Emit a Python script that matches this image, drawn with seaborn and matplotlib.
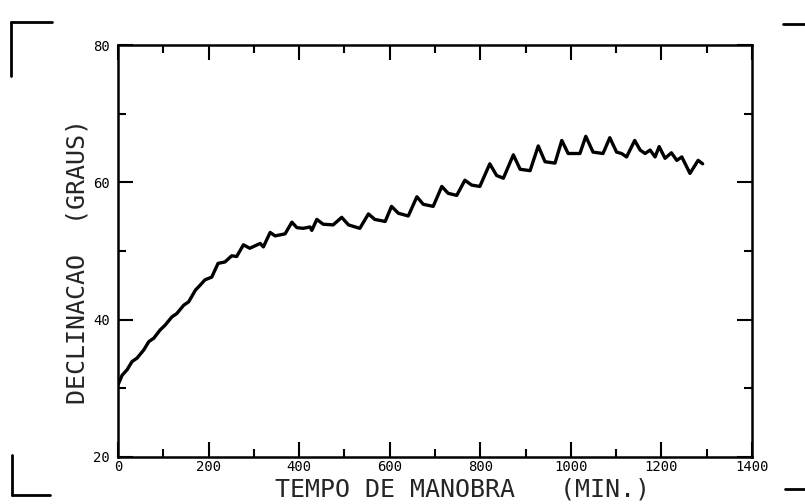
import matplotlib
matplotlib.use("Agg")
import matplotlib.pyplot as plt
from matplotlib.lines import Line2D
import seaborn as sns
import pandas as pd

# Data
minutes = [0, 9, 20, 31, 42, 57, 68, 79, 93, 104, 119, 130, 145, 156, 171,
           181, 192, 207, 221, 236, 251, 262, 277, 291, 314, 321, 336, 347, 369, 384, 395, 409, 424,
           428, 439, 453, 475, 494, 509, 534, 553, 567, 590, 604, 619, 641, 660, 674, 696,
           715, 729, 748, 766, 781, 799,
           821, 836, 851, 873, 888, 910, 928, 943, 965, 980, 994, 1020, 1033, 1049, 1071,
           1086, 1101, 1112, 1123, 1141, 1153, 1164, 1175, 1186, 1195, 1208, 1222, 1234,
           1245, 1263, 1281, 1291]
declinacao = [30.5, 31.9, 32.7, 33.9, 34.4, 35.6, 36.8, 37.3, 38.5, 39.2, 40.4, 40.9, 42.1, 42.6, 44.3,
              45.0, 45.8, 46.2, 48.2, 48.4, 49.3, 49.2, 50.9, 50.4, 51.1, 50.6, 52.7, 52.2, 52.5, 54.2, 53.4, 53.3, 53.5,
              53.0, 54.6, 53.9, 53.8, 54.9, 53.8, 53.3, 55.4, 54.6, 54.3, 56.5, 55.5, 55.1, 57.9, 56.8, 56.5,
              59.4, 58.4, 58.1, 60.3, 59.6, 59.4,
              62.7, 61.0, 60.6, 64.0, 61.9, 61.7, 65.3, 63.0, 62.8, 66.1, 64.2, 64.2, 66.7, 64.4, 64.2,
              66.5, 64.4, 64.2, 63.7, 66.1, 64.7, 64.2, 64.7, 63.7, 65.2, 63.5, 64.3, 63.2,
              63.7, 61.3, 63.2, 62.7]

x_major = [0, 200, 400, 600, 800, 1000, 1200, 1400]
x_minor = [100, 300, 500, 700, 900, 1100, 1300]
y_major = [20, 40, 60, 80]
y_minor = [30, 50, 70]

sns.set_style("white")
plt.rcParams['font.family'] = ['DejaVu Sans Mono', 'DejaVu Sans']

W, H = 805, 504
fig = plt.figure(figsize=(W / 100, H / 100), dpi=100)
L, R, T, B = 118, 752, 45, 457
ax = fig.add_axes([L / W, 1 - B / H, (R - L) / W, (B - T) / H])

df = pd.DataFrame({"t": minutes, "d": declinacao})
sns.lineplot(data=df, x="t", y="d", sort=False, color="black", linewidth=2.4, ax=ax)

ax.set_xlim(0, 1400)
ax.set_ylim(20, 80)
ax.set_xticks(x_major)
ax.set_xticks(x_minor, minor=True)
ax.set_yticks(y_major)
ax.set_yticks(y_minor, minor=True)
ax.set_xticklabels([str(v) for v in x_major])
ax.set_yticklabels([str(v) for v in y_major])
ax.tick_params(which="both", direction="in", top=True, right=True, left=True, bottom=True,
               width=1.5, color="black", labelsize=10, labelcolor="black")
ax.tick_params(which="major", length=11)
ax.tick_params(which="minor", length=6)
ax.tick_params(axis="x", which="major", pad=2)
ax.tick_params(axis="y", which="major", pad=6)
for s in ax.spines.values():
    s.set_visible(True)
    s.set_linewidth(1.8)
    s.set_color("black")
ax.set_xlabel("")
ax.set_ylabel("")

fig.text(462 / W, 1 - 489 / H, "TEMPO DE MANOBRA   (MIN.)", ha="center", va="center", fontsize=18)
fig.text(77 / W, 1 - 262 / H, "DECLINACAO  (GRAUS)", ha="center", va="center", rotation=90, fontsize=18)

# scan corner marks
def seg(x0, y0, x1, y1):
    fig.add_artist(Line2D([x0 / W, x1 / W], [1 - y0 / H, 1 - y1 / H], transform=fig.transFigure,
                          color="black", linewidth=2.0))

seg(11, 22, 11, 76)
seg(11, 22, 52, 22)
seg(783, 24, 805, 24)
seg(12, 455, 12, 495)
seg(12, 495, 50, 495)
seg(785, 489, 805, 489)

fig.savefig("out.png", dpi=100)
